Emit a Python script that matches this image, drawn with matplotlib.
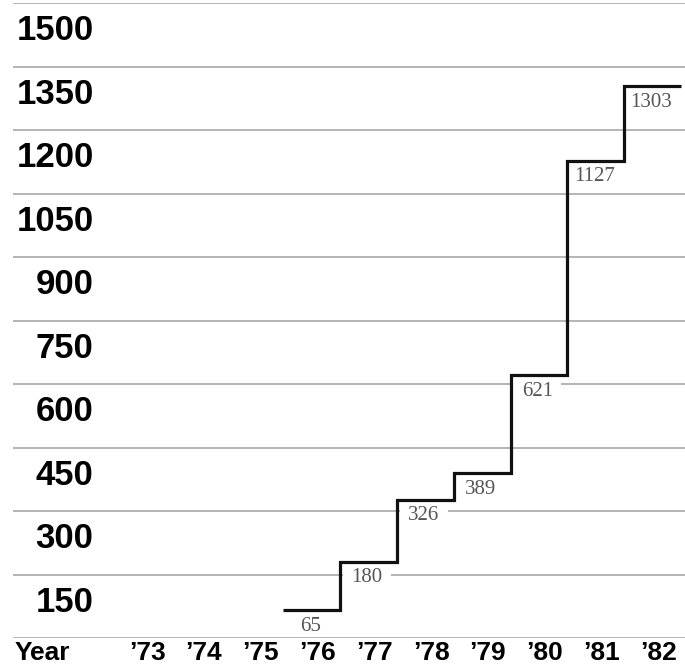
import matplotlib
matplotlib.use("Agg")
import matplotlib.pyplot as plt
import numpy as np

# Data
years = ["’73", "’74", "’75", "’76", "’77", "’78", "’79", "’80", "’81", "’82"]
step_years = ["’76", "’77", "’78", "’79", "’80", "’81", "’82"]
values = [65, 180, 326, 389, 621, 1127, 1303]
y_ticks = [150, 300, 450, 600, 750, 900, 1050, 1200, 1350, 1500]

fig = plt.figure(figsize=(6.85, 6.67), dpi=100)
ax = fig.add_axes([13 / 685, 29 / 667, 1 - 13 / 685, (638 - 3) / 667])

xpos = {y: i for i, y in enumerate(years)}
start = np.array([xpos[y] for y in step_years], dtype=float)
edges = np.append(start - 0.6, start[-1] + 0.4)

ax.stairs(values, edges, baseline=None, color="#111111", linewidth=2.3, zorder=4)

grid_levels = np.array([0] + y_ticks)
for v, e in zip(values, edges[:-1]):
    # labels that sit on a gridline get a white patch that breaks the line
    on_grid = np.min(np.abs(grid_levels - (v - 38))) < 20
    bbox = dict(boxstyle="square,pad=0.4", fc="white", ec="none") if on_grid else None
    ax.annotate(str(v), xy=(e + 0.47, v), xytext=(0, -16), textcoords="offset pixels",
                ha="center", va="center", fontsize=15, family="Liberation Serif",
                color="#555555", zorder=3, bbox=bbox)

ax.set_xlim(-2.36, 9.47)
ax.set_ylim(0, 1500)

# gridlines at value levels
ax.set_yticks(list(grid_levels))
ax.set_yticklabels([])
ax.yaxis.grid(True, color="#a8a8a8", linewidth=1.2)
ax.set_axisbelow(True)
ax.xaxis.set_zorder(5)
# labels sit just below each gridline
ax.set_yticks([v - 57 for v in y_ticks], minor=True)
ax.set_yticklabels([str(v) for v in y_ticks], minor=True,
                   fontsize=25, fontweight="bold", family="Liberation Sans")
ax.tick_params(axis="y", which="both", length=0)
ax.tick_params(axis="y", which="minor", pad=-58)

ax.set_xticks([-1.85] + list(range(len(years))))
ax.set_xticklabels(["Year"] + years, fontsize=19, fontweight="bold",
                   family="Liberation Sans")
ax.tick_params(axis="x", length=0, pad=2)

for s in ax.spines.values():
    s.set_visible(False)

fig.savefig("out.png", dpi=100)
